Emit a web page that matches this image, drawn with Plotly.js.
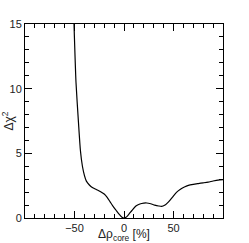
<!DOCTYPE html>
<html>
<head>
<meta charset="utf-8">
<script src="https://cdn.plot.ly/plotly-3.0.1.min.js"></script>
<style>html,body{margin:0;padding:0;background:#fff;}#chart{width:249px;height:243px;}</style>
</head>
<body>
<div id="chart"></div>
<script>
const deltaRho = [-50.5, -48.5, -46, -44, -42, -40, -38, -35, -32, -28, -24, -20, -17, -14, -11, -8, -5, -2, 0, 2, 5, 8, 12, 16, 20, 23, 27, 31, 35, 38, 41, 45, 49, 53, 57, 61, 65, 70, 75, 80, 85, 90, 95, 100];
const deltaChi2 = [15, 10.5, 7.4, 5.2, 4.0, 3.3, 2.85, 2.55, 2.35, 2.2, 2.05, 1.85, 1.6, 1.25, 0.9, 0.6, 0.3, 0.05, 0, 0.05, 0.3, 0.58, 0.92, 1.08, 1.15, 1.16, 1.1, 1.0, 0.93, 0.9, 0.98, 1.25, 1.62, 1.98, 2.22, 2.4, 2.52, 2.6, 2.66, 2.72, 2.78, 2.86, 2.93, 2.97];
const xTicks = [-50, 0, 50];
const xTickText = ["\u221250", "0", "50"];
const yTicks = [0, 5, 10, 15];

const font = {family: "Liberation Sans, Arial, sans-serif", size: 11, color: "#222"};
const titleFont = {family: "Liberation Sans, Arial, sans-serif", size: 12, color: "#222"};
const trace = {x: deltaRho, y: deltaChi2, mode: "lines", type: "scatter",
  line: {color: "#000", width: 1.2, shape: "spline", smoothing: 0.6}, hoverinfo: "none"};
const layout = {
  width: 249, height: 243,
  margin: {l: 25, r: 26, t: 24, b: 25},
  paper_bgcolor: "#fff", plot_bgcolor: "#fff",
  showlegend: false,
  font: font,
  xaxis: {range: [-100, 100], tickvals: xTicks, ticktext: xTickText,
    ticks: "inside", ticklen: 7, tickwidth: 1, tickcolor: "#000",
    minor: {dtick: 10, tick0: 0, ticks: "inside", ticklen: 4, tickcolor: "#000", showgrid: false},
    showline: true, linecolor: "#000", linewidth: 1, mirror: "ticks",
    showgrid: false, zeroline: false, tickfont: font,
    title: {text: "\u0394\u03c1<sub>core</sub> [%]", font: titleFont, standoff: 2}},
  yaxis: {range: [0, 15], tickvals: yTicks,
    ticks: "inside", ticklen: 7, tickwidth: 1, tickcolor: "#000",
    minor: {dtick: 1, tick0: 0, ticks: "inside", ticklen: 4, tickcolor: "#000", showgrid: false},
    showline: true, linecolor: "#000", linewidth: 1, mirror: "ticks",
    showgrid: false, zeroline: false, tickfont: font,
    title: {text: "\u0394\u03c7<sup>2</sup>", font: titleFont, standoff: 0}}
};
Plotly.newPlot("chart", [trace], layout, {staticPlot: true, displayModeBar: false});
</script>
</body>
</html>
